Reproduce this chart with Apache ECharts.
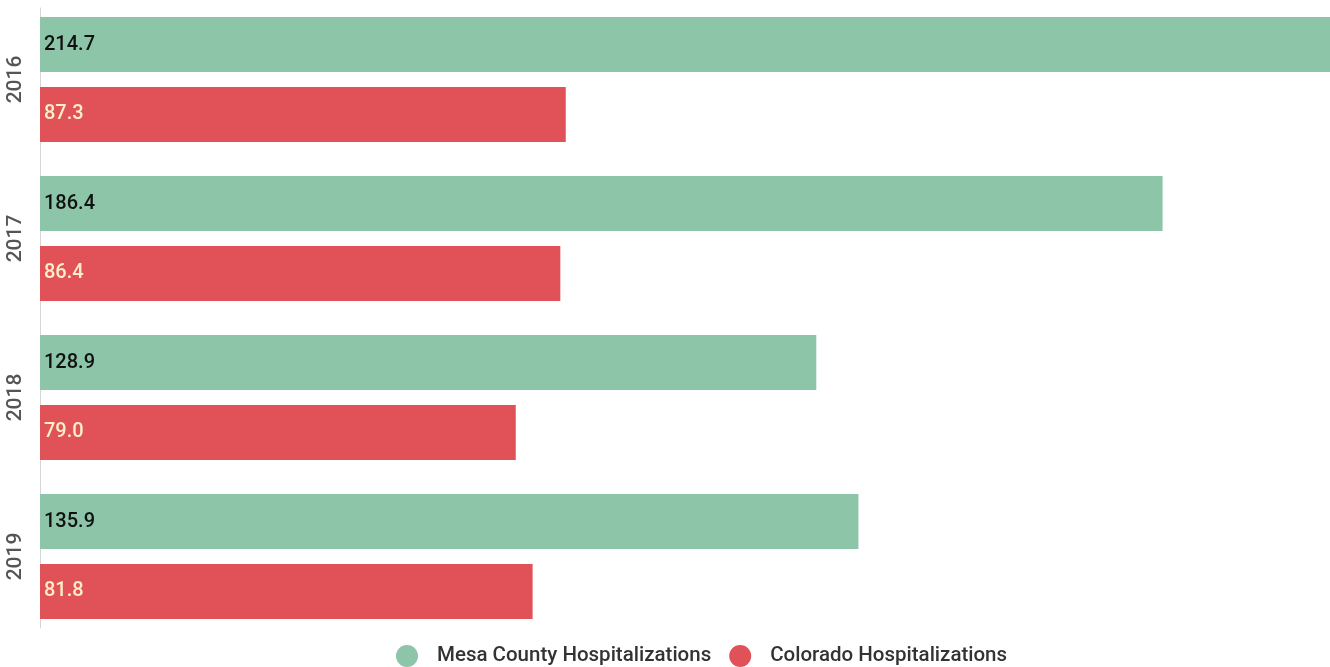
<!DOCTYPE html>
<html><head><meta charset="utf-8">
<script src="https://cdn.jsdelivr.net/npm/echarts@6/dist/echarts.min.js"></script>
<style>html,body{margin:0;padding:0;background:#fff}#c{width:1330px;height:667px}</style>
</head><body><div id="c"></div>
<script>
const years = ['2016', '2017', '2018', '2019'];
const mesa = [214.7, 186.4, 128.9, 135.9];
const colorado = [87.3, 86.4, 79.0, 81.8];
const seriesNames = ['Mesa County Hospitalizations', 'Colorado Hospitalizations'];

const chart = echarts.init(document.getElementById('c'));
chart.setOption({
  animation: false,
  textStyle: { fontFamily: 'Roboto' },
  color: ['#8cc5a7', '#e05258'],
  legend: {
    bottom: 0, left: 396, padding: 0,
    icon: 'circle', itemWidth: 22, itemHeight: 22, itemGap: 18,
    textStyle: { fontSize: 20.5, color: '#333', fontFamily: 'Roboto', fontWeight: 500, padding: [0, 0, 0, 14] },
    data: seriesNames
  },
  grid: [
    { left: 40, width: 1293, top: 0, height: 636, outerBoundsMode: 'none' },
    { left: 40, width: 1293, top: 8, height: 620, outerBoundsMode: 'none' }
  ],
  xAxis: [
    { gridIndex: 0, type: 'value', min: 0, max: 214.7, show: false },
    { gridIndex: 1, type: 'value', min: 0, max: 1, show: false }
  ],
  yAxis: [
    {
      gridIndex: 0, type: 'category', data: years, inverse: true,
      axisLine: { show: false }, axisTick: { show: false }, splitLine: { show: false },
      axisLabel: { rotate: 90, margin: 14, fontSize: 21, fontWeight: 500, color: '#555', fontFamily: 'Roboto' }
    },
    {
      gridIndex: 1, type: 'category', data: years, inverse: true,
      axisLine: { show: true, lineStyle: { color: '#d6d6d6', width: 1 } },
      axisTick: { show: false }, axisLabel: { show: false }, splitLine: { show: false }
    }
  ],
  series: [
    {
      name: seriesNames[0], type: 'bar', xAxisIndex: 0, yAxisIndex: 0,
      data: mesa, barWidth: 55, barGap: '27%',
      label: { show: true, position: 'insideLeft', distance: 4, fontSize: 20, fontWeight: 500, color: '#111', fontFamily: 'Roboto',
        formatter: p => p.value.toFixed(1) }
    },
    {
      name: seriesNames[1], type: 'bar', xAxisIndex: 0, yAxisIndex: 0,
      data: colorado, barWidth: 55, barGap: '27%',
      label: { show: true, position: 'insideLeft', distance: 4, fontSize: 20, fontWeight: 500, color: '#fdf0c6', fontFamily: 'Roboto',
        formatter: p => p.value.toFixed(1) }
    }
  ]
});
</script></body></html>
